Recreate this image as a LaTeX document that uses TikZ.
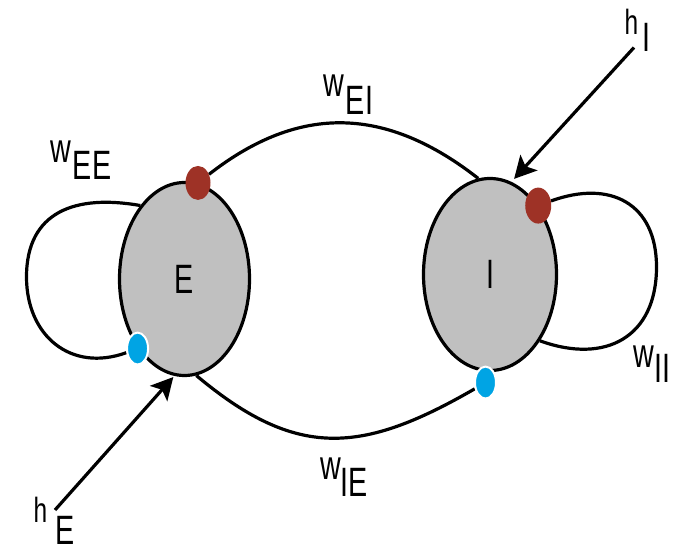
\documentclass[tikz,border=0pt]{standalone}
\usepackage{fontspec}
\setmainfont[FakeStretch=0.7]{Liberation Sans}
\usetikzlibrary{shapes.geometric,arrows.meta,calc}
\definecolor{cellgray}{RGB}{192,192,192}
\definecolor{excite}{RGB}{158,50,38}
\definecolor{inhib}{RGB}{0,164,228}
\pgfdeclarelayer{ground}
\pgfdeclarelayer{wires}
\pgfsetlayers{ground,wires,main}
\newcommand\bigfont{\fontsize{41}{45}\selectfont}
\newcommand\hfont{\fontsize{35}{38}\selectfont}

\begin{document}
\begin{tikzpicture}[x=1pt,y=1pt,
  cell/.style={ellipse, draw, line width=3.2pt, fill=cellgray, inner sep=0pt, font=\bigfont},
  rdot/.style={ellipse, fill=excite, inner sep=0pt, minimum width=25pt, minimum height=34pt},
  bdot/.style={ellipse, fill=inhib, draw=white, line width=2pt, inner sep=0pt,
               minimum width=21pt, minimum height=32pt},
  wire/.style={line width=3.2pt},
  drive/.style={line width=3.2pt, -{Stealth[length=22pt,width=23pt,inset=5pt]}},
  lab/.style={anchor=base west, inner sep=0pt, font=\bigfont}]

\useasboundingbox (0,0) rectangle (675,554);

% background and the two populations
\begin{pgfonlayer}{ground}
  \fill[white] (0,0) rectangle (675,554);
  \node[cell, minimum width=130pt, minimum height=193pt] (E) at (184.5,275) {E};
  \node[cell, minimum width=133pt, minimum height=192pt] (I) at (490,279.5) {I};
\end{pgfonlayer}

% synapse markers
\node[rdot] (eR) at (E.82) {};
\node[bdot] (eB) at (E.236) {};
\node[rdot, minimum width=26pt, minimum height=36pt] (iR) at (I.55) {};
\node[bdot] (iB) at ($(I.south)+(-4.5,-10.5)$) {};

% waypoints of the self loops and sources of the inputs
\coordinate (eeL) at (26.5,277);
\coordinate (iiR) at (656.5,287);
\coordinate (hEsrc) at (55,44);
\coordinate (hIsrc) at (634,506.5);

\begin{pgfonlayer}{wires}
  % E -> I
  \draw[wire] (eR) to[out=38,in=142,looseness=1.1] (I.97);
  % I -> E
  \draw[wire] (E.277) to[out=-40,in=-150,looseness=1.2] (iB);
  % E -> E
  \draw[wire] (E.121) to[out=170,in=90,looseness=1.25] (eeL)
              to[out=-90,in=200,looseness=1.2] (eB);
  % I -> I
  \draw[wire] (iR) to[out=20,in=90,looseness=1.3] (iiR)
              to[out=-90,in=-20,looseness=1.3] (I.-53);
  % external inputs
  \draw[drive, shorten >=1.5pt] (hEsrc) -- (E.264);
  \draw[drive, shorten >=4pt] (hIsrc) -- (I.77);
\end{pgfonlayer}

% weight and input labels
\node[lab] (lEE) at (50,391) {w\kern2pt\raisebox{-17pt}{EE}};
\node[lab] (lEI) at (323,457) {w\kern2pt\raisebox{-18pt}{EI}};
\node[lab] (lII) at (633,186) {w\kern0.5pt\raisebox{-15pt}{II}};
\node[lab] (lIE) at (320,74) {w\raisebox{-17pt}{IE}};
\node[lab] (lhE) at (33.4,31) {{\hfont h}\kern7.8pt\raisebox{-22pt}{E}};
\node[lab] (lhI) at (624.4,519) {{\hfont h}\kern4.3pt\raisebox{-17pt}{I}};
\end{tikzpicture}
\end{document}
